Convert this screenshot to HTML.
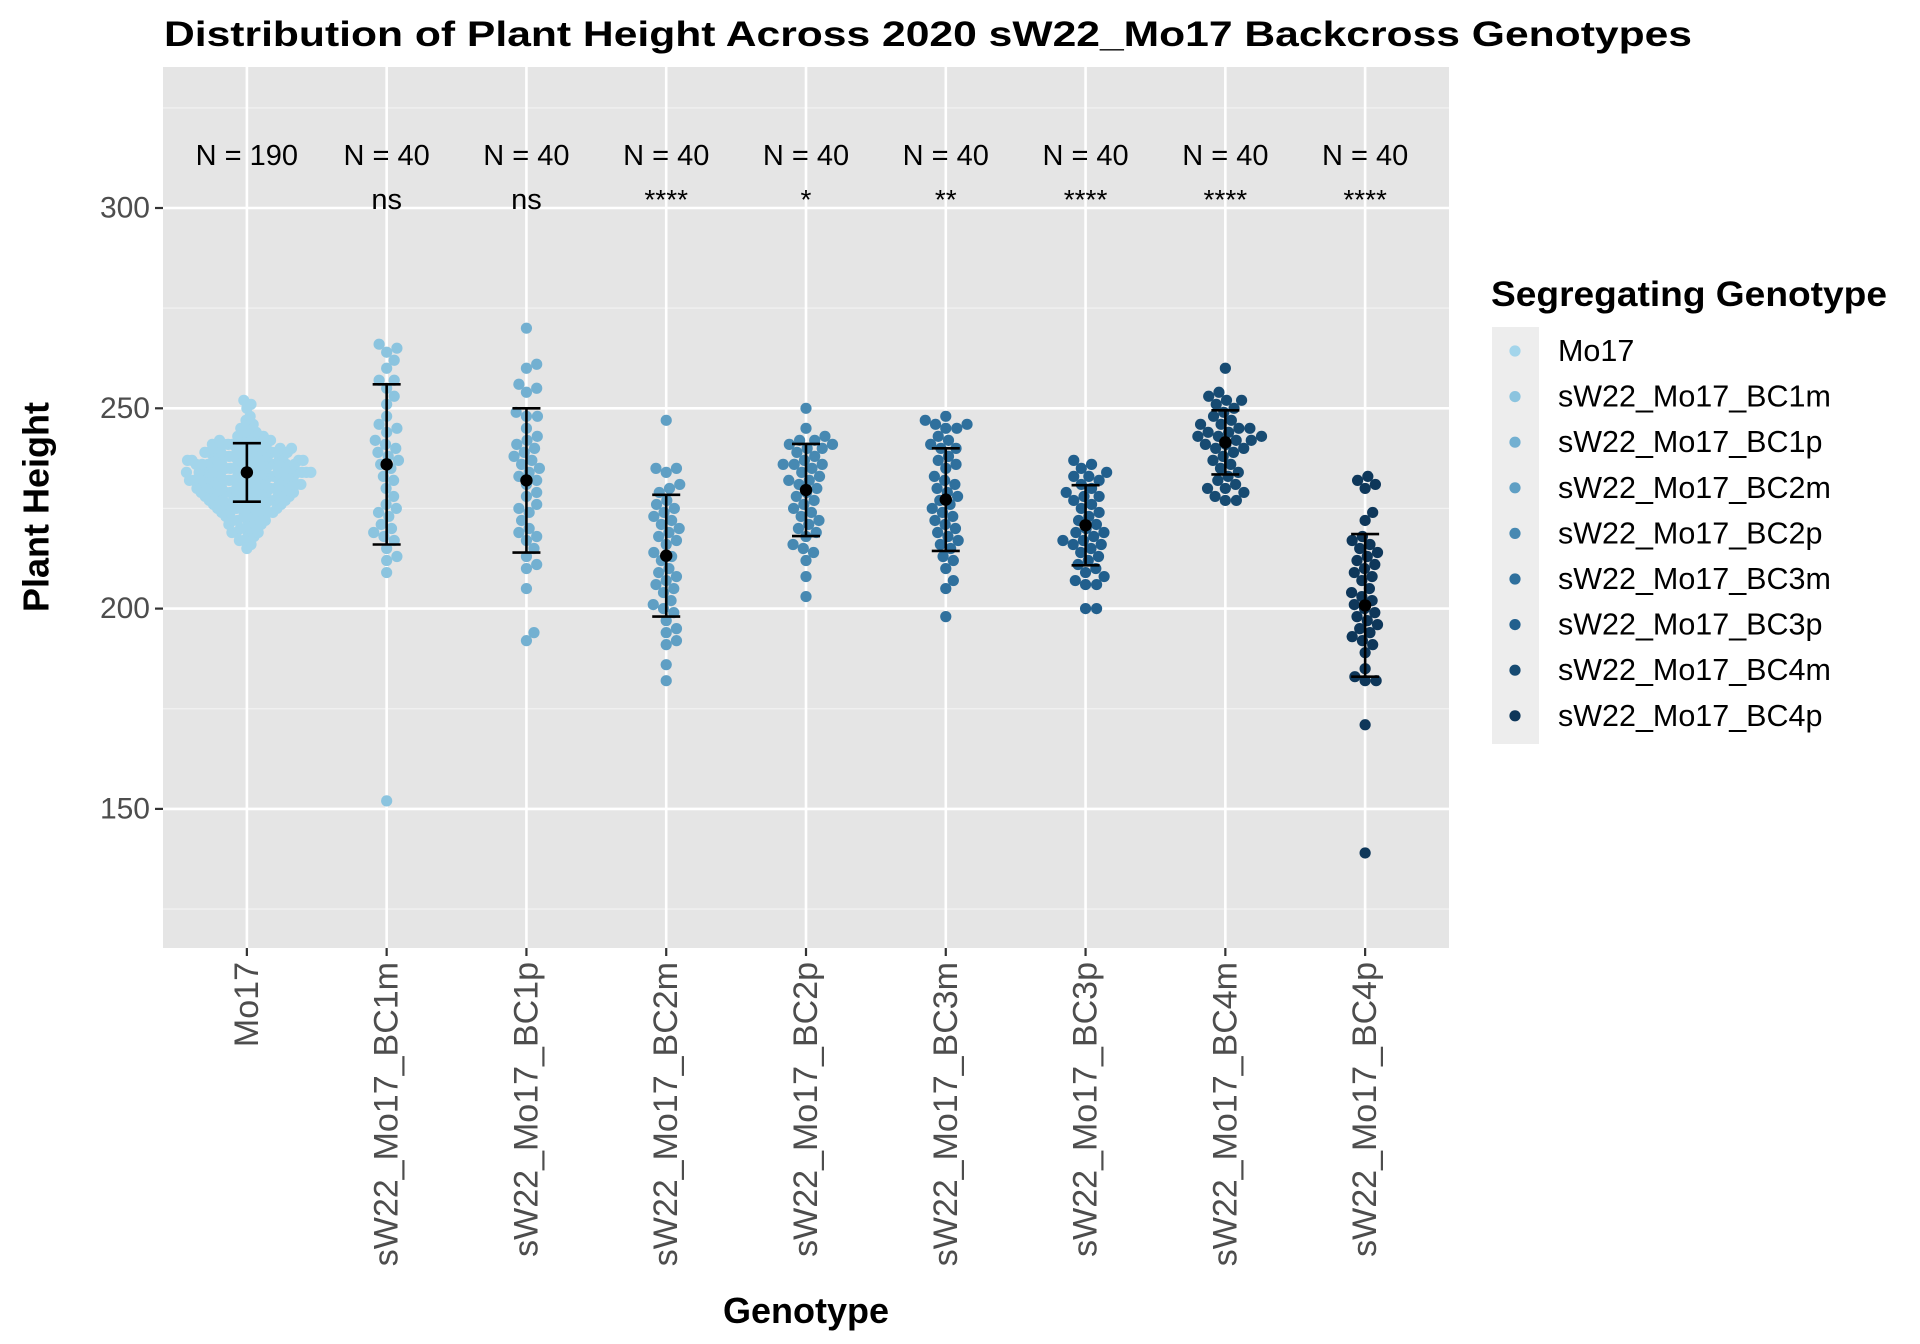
<!DOCTYPE html>
<html><head><meta charset="utf-8"><style>
html,body{margin:0;padding:0;background:#fff;}
svg{display:block;font-family:"Liberation Sans",Arial,sans-serif;}
</style></head><body>
<svg id="chart" width="1920" height="1344" viewBox="0 0 1920 1344" xmlns="http://www.w3.org/2000/svg">
<rect width="1920" height="1344" fill="#fff"/>
<text x="164" y="46" font-size="35" font-weight="bold" textLength="1528" lengthAdjust="spacingAndGlyphs">Distribution of Plant Height Across 2020 sW22_Mo17 Backcross Genotypes</text>
<rect x="163" y="67" width="1286" height="881" fill="#e5e5e5"/>
<g id="grid"></g>
<g id="yaxis"></g>
<g id="xaxis"></g>
<g id="annot"></g>
<g id="points"></g>
<g id="errbars"></g>
<text transform="translate(36,507) rotate(-90)" text-anchor="middle" dominant-baseline="central" font-size="36" font-weight="bold">Plant Height</text>
<text x="806" y="1323" text-anchor="middle" font-size="36" font-weight="bold">Genotype</text>
<g id="legend">
<text x="1491" y="306" font-size="35" font-weight="bold" textLength="396" lengthAdjust="spacingAndGlyphs">Segregating Genotype</text>
<rect x="1492" y="327" width="47" height="417" fill="#ededed"/>
</g>
</svg>
<script>
const categories=["Mo17","sW22_Mo17_BC1m","sW22_Mo17_BC1p","sW22_Mo17_BC2m","sW22_Mo17_BC2p","sW22_Mo17_BC3m","sW22_Mo17_BC3p","sW22_Mo17_BC4m","sW22_Mo17_BC4p"];
const colors=["#a3d5eb","#8bc4df","#73b0d1","#5f9fc4","#4789b2","#2f709d","#215f8d","#174b72","#0e375a"];
const nLabels=["N = 190","N = 40","N = 40","N = 40","N = 40","N = 40","N = 40","N = 40","N = 40"];
const sigLabels=["","ns","ns","****","*","**","****","****","****"];
const means=[234,236,232,213.2,229.6,227.2,220.8,241.5,200.8];
const sds=[7.3,20,18,15.2,11.5,12.8,10,8,17.8];
const yTicks=[150,200,250,300];
const yMinor=[125,175,225,275,325];
const mo17=[215,216,217,217,218,218,219,219,219,220,220,220,221,221,221,222,222,222,222,223,223,223,223,224,224,224,224,224,225,225,225,225,225,225,226,226,226,226,226,226,227,227,227,227,227,227,227,228,228,228,228,228,228,228,228,229,229,229,229,229,229,229,229,230,230,230,230,230,230,230,230,230,231,231,231,231,231,231,231,231,231,232,232,232,232,232,232,232,232,232,232,233,233,233,233,233,233,233,233,233,233,234,234,234,234,234,234,234,234,234,234,235,235,235,235,235,235,235,235,235,235,236,236,236,236,236,236,236,236,236,236,237,237,237,237,237,237,237,237,237,238,238,238,238,238,238,238,238,239,239,239,239,239,239,239,239,240,240,240,240,240,240,240,241,241,241,241,241,241,242,242,242,242,242,243,243,243,244,244,245,245,246,247,248,250,251,252];
const bc1m=[266,265,264,262,260,257,257,255,253,251,248,246,245,244,242,241,240,239,238,237,236,235,233,232,230,228,226,225,224,223,221,220,219,218,217,215,213,212,209,152];
const bc1p=[270,261,260,256,255,254,249,248,248,245,243,242,241,240,239,238,237,236,235,234,233,232,231,229,228,226,225,224,222,220,219,218,217,215,213,211,210,205,194,192];
const bc2m=[247,235,235,234,231,230,229,227,226,225,224,223,222,221,220,219,218,217,216,214,213,212,210,209,208,207,206,205,204,202,201,200,199,197,195,194,192,191,186,182];
const bc2p=[250,245,243,242,242,241,241,240,240,239,238,237,236,236,236,235,234,233,232,232,231,230,229,228,227,226,225,224,223,222,221,220,219,218,216,215,214,212,208,203];
const bc3m=[248,247,246,246,245,245,243,242,241,240,240,238,237,236,235,233,232,231,230,229,228,227,226,225,224,223,222,221,220,219,218,217,216,215,213,212,210,207,205,198];
const bc3p=[237,236,235,234,233,233,232,231,230,229,228,228,227,226,225,224,223,222,221,220,219,219,218,217,217,216,216,215,214,213,212,211,210,209,208,207,206,206,200,200];
const bc4m=[260,254,253,252,252,251,250,249,248,247,246,246,245,245,244,244,243,243,243,242,242,241,241,240,240,239,238,237,236,235,234,233,232,231,230,230,229,228,227,227];
const bc4p=[233,232,231,230,224,222,218,217,216,215,214,213,212,211,210,209,208,207,205,204,203,202,201,200,199,198,197,196,195,194,193,192,191,189,185,183,182,182,171,139];
const series=[mo17,bc1m,bc1p,bc2m,bc2p,bc3m,bc3p,bc4m,bc4p];

const NS="http://www.w3.org/2000/svg";
const PX0=163,PX1=1449,PY0=67,PY1=948;
const halfWidth=[64,32,30,30,32,32,32,48,30];
function xScale(i){return PX0+(i+1-0.4)*(PX1-PX0)/9.2;}
function yScale(v){return 208+(300-v)*4.006;}
function mk(tag,attrs,parent){const e=document.createElementNS(NS,tag);for(const k in attrs)e.setAttribute(k,attrs[k]);parent.appendChild(e);return e;}
const grid=document.getElementById('grid');
yMinor.forEach(v=>{const l=mk('line',{x1:PX0,x2:PX1,y1:yScale(v),y2:yScale(v),stroke:'#f2f2f2','stroke-width':1.3},grid);

});
yTicks.forEach(v=>{const l=mk('line',{x1:PX0,x2:PX1,y1:yScale(v),y2:yScale(v),stroke:'#fff','stroke-width':2.6},grid);

});
categories.forEach((c,i)=>{const l=mk('line',{x1:xScale(i),x2:xScale(i),y1:PY0,y2:PY1,stroke:'#fff','stroke-width':2.6},grid);

});
const ya=document.getElementById('yaxis');
yTicks.forEach(v=>{const t=mk('line',{x1:155,x2:163,y1:yScale(v),y2:yScale(v),stroke:'#333','stroke-width':2.2},ya);


const tx=mk('text',{x:150,y:yScale(v),'text-anchor':'end','dominant-baseline':'central','font-size':30,fill:'#4d4d4d'},ya);tx.textContent=v;

});
const xa=document.getElementById('xaxis');
categories.forEach((c,i)=>{const x=xScale(i);const t=mk('line',{x1:x,x2:x,y1:PY1,y2:PY1+8,stroke:'#333','stroke-width':2.2},xa);


const tx=mk('text',{transform:`translate(${x},962) rotate(-90)`,'text-anchor':'end','dominant-baseline':'central','font-size':34,fill:'#4d4d4d'},xa);tx.textContent=c;

});
const an=document.getElementById('annot');
categories.forEach((c,i)=>{const x=xScale(i);
const n=mk('text',{x:x,y:165,'text-anchor':'middle','font-size':29},an);n.textContent=nLabels[i];


if(sigLabels[i]){const s=mk('text',{x:x,y:209,'text-anchor':'middle','font-size':sigLabels[i]==='ns'?29:28},an);s.textContent=sigLabels[i];

}});
// beeswarm layout, then compressed to the observed swarm width
const pg=document.getElementById('points');const R=5.6,D=11;
series.forEach((vals,i)=>{const cx=xScale(i);const sorted=vals.slice().sort((a,b)=>a-b);const placed=[];
sorted.forEach(v=>{const y=yScale(v);let best=0;
const cands=[0];placed.forEach(p=>{const dy=Math.abs(p.y-y);if(dy<D){const dx=Math.sqrt(D*D-dy*dy);cands.push(p.x+dx+0.01,p.x-dx-0.01);}});
cands.sort((a,b)=>Math.abs(a)-Math.abs(b));
for(const c of cands){if(placed.every(p=>(p.x-c)**2+(p.y-y)**2>=D*D-0.1)){best=c;break;}}
placed.push({x:best,y:y});});
let mx=0;placed.forEach(p=>{mx=Math.max(mx,Math.abs(p.x));});
const k=mx>halfWidth[i]?halfWidth[i]/mx:1;
placed.forEach(p=>{const pt=mk('circle',{cx:cx+p.x*k,cy:p.y,r:R,fill:colors[i]},pg);

});});
const eb=document.getElementById('errbars');
categories.forEach((c,i)=>{const x=xScale(i);const lo=yScale(means[i]-sds[i]),hi=yScale(means[i]+sds[i]);
const g=mk('g',{stroke:'#000','stroke-width':2.6},eb);


mk('line',{x1:x,x2:x,y1:hi,y2:lo},g);mk('line',{x1:x-14,x2:x+14,y1:hi,y2:hi},g);mk('line',{x1:x-14,x2:x+14,y1:lo,y2:lo},g);
const m=mk('circle',{cx:x,cy:yScale(means[i]),r:6.2,fill:'#000'},eb);

});
const lg=document.getElementById('legend');
categories.forEach((c,i)=>{const y=351+i*45.6;
const d=mk('circle',{cx:1515,cy:y,r:5.6,fill:colors[i]},lg);


const t=mk('text',{x:1558,y:y,'dominant-baseline':'central','font-size':30.5},lg);t.textContent=c;

});
</script>
</body></html>
